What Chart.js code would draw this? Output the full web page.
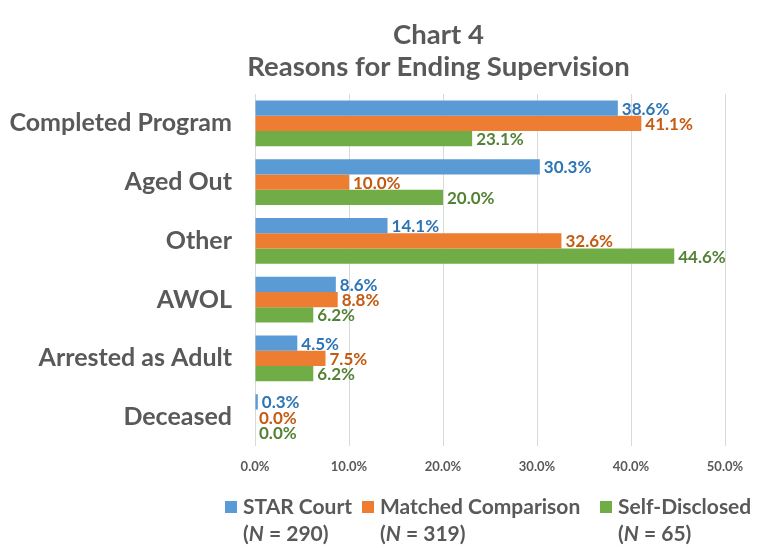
<!DOCTYPE html>
<html lang="en">
  <head>
    <meta charset="UTF-8" />
    <title>Chart 4</title>
    <style>
      body {
        margin: 0;
        background: #fff;
        font-family: Lato, sans-serif;
        color: #595959;
      }
      .wrap {
        position: relative;
        width: 761px;
        height: 548px;
      }
      .title {
        position: absolute;
        top: 18px;
        left: 116px;
        width: 645px;
        text-align: center;
        font-weight: bold;
        font-size: 27.5px;
        line-height: 32px;
      }
      .legend .item {
        position: absolute;
        top: 492px;
        display: flex;
        white-space: nowrap;
        font-weight: bold;
        font-size: 21px;
        line-height: 27px;
      }
      .legend .box {
        width: 12px;
        height: 12px;
        margin: 9px 6px 0 0;
      }
      canvas {
        position: absolute;
        top: 0;
        left: 0;
      }
    </style>
    <script src="https://cdn.jsdelivr.net/npm/chart.js"></script>
  </head>
  <body>
    <div class="wrap">
      <canvas id="chart4" width="761" height="548"></canvas>
      <div class="title">Chart 4<br />Reasons for Ending Supervision</div>
      <div class="legend" id="legend"></div>
    </div>
    <script>
      var categories = [
        "Completed Program",
        "Aged Out",
        "Other",
        "AWOL",
        "Arrested as Adult",
        "Deceased",
      ];
      var seriesNames = ["STAR Court", "Matched Comparison", "Self-Disclosed"];
      var seriesN = [290, 319, 65];
      var starCourt = [38.6, 30.3, 14.1, 8.6, 4.5, 0.3];
      var matchedComparison = [41.1, 10.0, 32.6, 8.8, 7.5, 0.0];
      var selfDisclosed = [23.1, 20.0, 44.6, 6.2, 6.2, 0.0];
      var xTicks = [0, 10, 20, 30, 40, 50];

      var barColors = ["#5B9BD5", "#ED7D31", "#70AD47"];
      var labelColors = ["#2E75B6", "#C55A11", "#548235"];
      var legendLeft = [225, 362, 600];

      // legend with italic N, built from the arrays
      var legendEl = document.getElementById("legend");
      seriesNames.forEach(function (name, i) {
        var item = document.createElement("div");
        item.className = "item";
        item.style.left = legendLeft[i] + "px";
        item.innerHTML =
          '<div class="box" style="background:' + barColors[i] + '"></div>' +
          "<div>" + name + "<br />(<i>N</i> = " + seriesN[i] + ")</div>";
        legendEl.appendChild(item);
      });

      var valueLabels = {
        id: "valueLabels",
        afterDatasetsDraw: function (chart) {
          var ctx = chart.ctx;
          ctx.save();
          ctx.font = "bold 17px Lato";
          ctx.textBaseline = "middle";
          ctx.textAlign = "left";
          chart.data.datasets.forEach(function (ds, i) {
            var meta = chart.getDatasetMeta(i);
            meta.data.forEach(function (bar, j) {
              ctx.fillStyle = labelColors[i];
              ctx.fillText(ds.data[j].toFixed(1) + "%", bar.x + 4, bar.y + 1);
            });
          });
          ctx.restore();
        },
      };

      var ctx = document.getElementById("chart4").getContext("2d");
      var chart = new Chart(ctx, {
        type: "bar",
        data: {
          labels: categories,
          datasets: [starCourt, matchedComparison, selfDisclosed].map(function (d, i) {
            return {
              label: seriesNames[i],
              data: d,
              backgroundColor: barColors[i],
              barPercentage: 1,
              categoryPercentage: 0.78,
            };
          }),
        },
        options: {
          indexAxis: "y",
          responsive: false,
          animation: false,
          layout: { padding: { top: 94, bottom: 60, left: 0, right: 36 } },
          plugins: {
            legend: { display: false },
            title: { display: false },
            tooltip: { enabled: false },
          },
          scales: {
            x: {
              min: 0,
              max: 50,
              afterBuildTicks: function (axis) {
                axis.ticks = xTicks.map(function (v) { return { value: v }; });
              },
              grid: { color: "#D9D9D9", drawTicks: false },
              border: { display: false },
              ticks: {
                padding: 13,
                color: "#595959",
                font: { family: "Lato", size: 13, weight: "bold" },
                callback: function (v) { return v.toFixed(1) + "%"; },
              },
            },
            y: {
              afterFit: function (axis) {
                axis.width = 255;
              },
              grid: { display: false, drawTicks: false },
              border: { display: false },
              ticks: {
                padding: 23,
                color: "#595959",
                font: { family: "Lato", size: 25, weight: "bold" },
              },
            },
          },
        },
        plugins: [valueLabels],
      });
    </script>
  </body>
</html>
